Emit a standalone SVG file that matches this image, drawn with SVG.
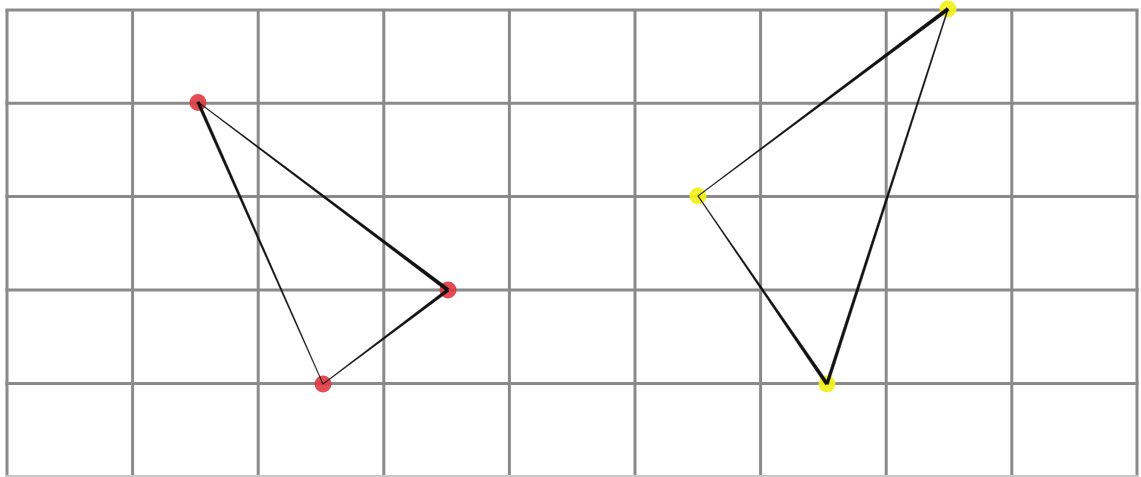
<svg xmlns="http://www.w3.org/2000/svg" width="1141" height="477" viewBox="0 0 1141 477">
<style>
.grid line{stroke:#8a8a8a;stroke-width:3}
.red{fill:#e03840;fill-opacity:0.9}
.yel{fill:#f2f020;fill-opacity:0.95}
.edge{fill:#111;stroke:#111;stroke-width:0.4}
</style>
<rect width="1141" height="477" fill="#fff"/>
<g class="grid">
<line x1="7" y1="10" x2="7" y2="477"/>
<line x1="132.6" y1="10" x2="132.6" y2="477"/>
<line x1="258.2" y1="10" x2="258.2" y2="477"/>
<line x1="383.8" y1="10" x2="383.8" y2="477"/>
<line x1="509.4" y1="10" x2="509.4" y2="477"/>
<line x1="635" y1="10" x2="635" y2="477"/>
<line x1="760.6" y1="10" x2="760.6" y2="477"/>
<line x1="886.2" y1="10" x2="886.2" y2="477"/>
<line x1="1011.8" y1="10" x2="1011.8" y2="477"/>
<line x1="1137" y1="10" x2="1137" y2="477"/>
<line x1="5.5" y1="10" x2="1138.5" y2="10"/>
<line x1="5.5" y1="103.2" x2="1138.5" y2="103.2"/>
<line x1="5.5" y1="196.6" x2="1138.5" y2="196.6"/>
<line x1="5.5" y1="290" x2="1138.5" y2="290"/>
<line x1="5.5" y1="383.4" x2="1138.5" y2="383.4"/>
<line x1="5.5" y1="476.5" x2="1138.5" y2="476.5" style="stroke:#c8c8c8"/>
</g>
<g id="node-r1"><circle class="red" cx="198" cy="102.5" r="8.5"/></g>
<g id="node-r2"><circle class="red" cx="448" cy="290" r="8.5"/></g>
<g id="node-r3"><circle class="red" cx="323" cy="384" r="8.5"/></g>
<g id="node-y1"><circle class="yel" cx="948" cy="9" r="8.5"/></g>
<g id="node-y2"><circle class="yel" cx="698" cy="196" r="8.5"/></g>
<g id="node-y3"><circle class="yel" cx="827" cy="384" r="8.5"/></g>
<g id="connectors">
<polygon class="edge" points="449.05,288.60 198.18,101.76 197.82,102.24 446.95,291.40"/>
<polygon class="edge" points="199.37,101.39 323.27,383.88 322.73,384.12 196.63,102.61"/>
<polygon class="edge" points="448.90,291.20 323.18,384.24 322.82,383.76 447.10,288.80"/>
<polygon class="edge" points="949.05,10.40 698.18,196.24 697.82,195.76 946.95,7.60"/>
<polygon class="edge" points="698.25,195.83 828.44,383.01 825.56,384.99 697.75,196.17"/>
<polygon class="edge" points="828.43,384.46 948.48,9.15 947.52,8.85 825.57,383.54"/>
</g>
</svg>
